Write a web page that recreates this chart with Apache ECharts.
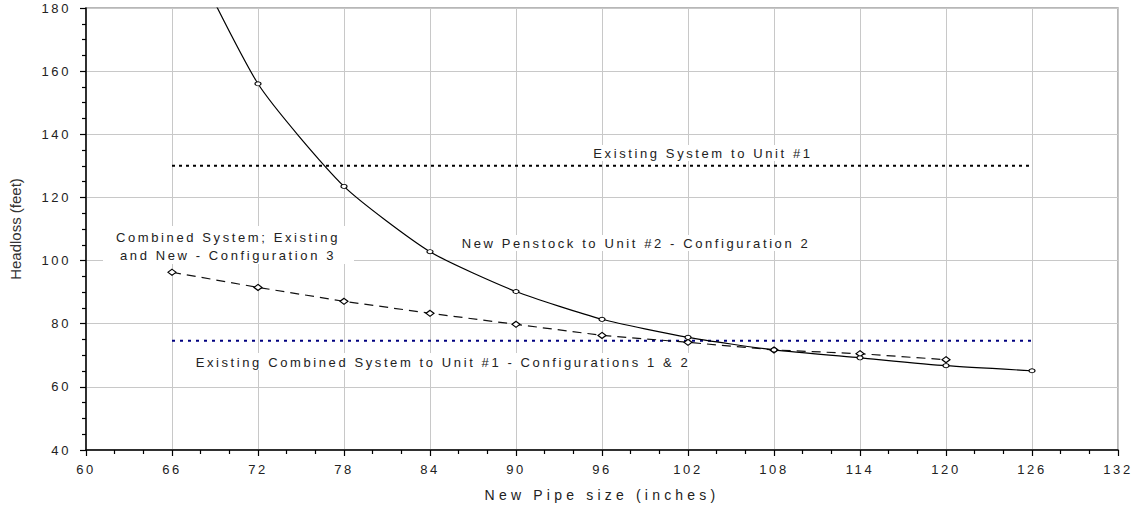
<!DOCTYPE html>
<html>
<head>
<meta charset="utf-8">
<script src="https://cdn.jsdelivr.net/npm/echarts@6/dist/echarts.min.js"></script>
<style>
  html, body { margin: 0; padding: 0; background: #fff; }
  #chart { width: 1134px; height: 507px; }
  /* the original has widely spaced lettering */
  #chart text { letter-spacing: 2.6px; }
  #chart text[style*="14px"] { letter-spacing: 4.2px; }
  #chart text[style*="Arial"] { letter-spacing: 0; }
</style>
</head>
<body>
<div id="chart"></div>
<script>
// pipe sizes (inches)
const pipeSizes = [66, 72, 78, 84, 90, 96, 102, 108, 114, 120, 126];
// New Penstock to Unit #2 - Configuration 2 (66" point is off the top)
const newPenstock = [209, 156, 123.5, 102.8, 90.2, 81.4, 75.7, 71.7, 69.2, 66.7, 65.1];
// Combined System; Existing and New - Configuration 3 (66..120)
const combinedSizes = [66, 72, 78, 84, 90, 96, 102, 108, 114, 120];
const combinedConfig3 = [96.3, 91.5, 87.1, 83.3, 79.8, 76.3, 74.1, 71.7, 70.5, 68.6];
// constant reference lines
const refSizes = [66, 126];
const existingUnit1 = 130;
const existingCombined = 74.6;

const xTicks = { min: 60, max: 132, interval: 6 };
const yTicks = { min: 40, max: 180, interval: 20 };

const chart = echarts.init(document.getElementById('chart'), null, { renderer: 'svg' });

const font = 'Liberation Sans';
const txt = '#222';

function pairs(xs, ys) {
  return xs.map((x, i) => [x, ys[i]]);
}

const option = {
  animation: false,
  grid: {
    left: 85, right: 16, top: 8, bottom: 55,
    show: true, borderColor: '#a0a0a0', borderWidth: 1.5
  },
  xAxis: {
    type: 'value',
    min: xTicks.min, max: xTicks.max, interval: xTicks.interval,
    name: 'New Pipe size (inches)',
    nameLocation: 'middle',
    nameGap: 38,
    nameTextStyle: { fontFamily: font, fontSize: 14, color: txt },
    axisLine: { lineStyle: { color: '#000', width: 1.5 } },
    axisTick: { length: 6, lineStyle: { color: '#000', width: 1.2 } },
    minorTick: { show: true, splitNumber: 3, length: 4, lineStyle: { color: '#000', width: 1.2 } },
    splitLine: { lineStyle: { color: '#c8c8c8', width: 1 } },
    axisLabel: { fontFamily: font, fontSize: 13, color: txt, margin: 13 }
  },
  yAxis: {
    type: 'value',
    min: yTicks.min, max: yTicks.max, interval: yTicks.interval,
    name: 'Headloss (feet)',
    nameLocation: 'middle',
    nameGap: 63,
    nameTextStyle: { fontFamily: 'Arial', fontSize: 15, color: '#333' },
    axisLine: { show: true, lineStyle: { color: '#000', width: 1.5 } },
    axisTick: { show: true, length: 6, lineStyle: { color: '#000', width: 1.2 } },
    minorTick: { show: true, splitNumber: 4, length: 4, lineStyle: { color: '#000', width: 1.2 } },
    splitLine: { lineStyle: { color: '#c8c8c8', width: 1 } },
    axisLabel: { fontFamily: font, fontSize: 13, color: txt, margin: 15 }
  },
  series: [
    {
      name: 'Existing System to Unit #1',
      type: 'line',
      data: refSizes.map(x => [x, existingUnit1]),
      symbol: 'none',
      lineStyle: { color: '#000', width: 2, type: [3, 4] },
      z: 3
    },
    {
      name: 'Existing Combined System to Unit #1 - Configurations 1 & 2',
      type: 'line',
      data: refSizes.map(x => [x, existingCombined]),
      symbol: 'none',
      lineStyle: { color: '#000080', width: 2.2, type: [3, 5] },
      z: 3
    },
    {
      name: 'Combined System; Existing and New - Configuration 3',
      type: 'line',
      data: pairs(combinedSizes, combinedConfig3),
      symbol: 'diamond',
      symbolSize: [8, 6],
      itemStyle: { color: '#fff', borderColor: '#000', borderWidth: 1.2 },
      lineStyle: { color: '#111', width: 1.2, type: [9, 6] },
      z: 4
    },
    {
      name: 'New Penstock to Unit #2 - Configuration 2',
      type: 'line',
      data: pairs(pipeSizes, newPenstock),
      smooth: 0.2,
      clip: true,
      symbol: 'circle',
      symbolSize: [6, 4],
      itemStyle: { color: '#fff', borderColor: '#000', borderWidth: 1 },
      lineStyle: { color: '#000', width: 1.2 },
      z: 5
    }
  ],
  graphic: [
    { type: 'rect', shape: { x: 586, y: 145, width: 234, height: 16 }, style: { fill: '#fff' }, z: 10 },
    { type: 'text', z: 11, style: { text: 'Existing System to Unit #1', x: 703, y: 153, textAlign: 'center', textVerticalAlign: 'middle', fontFamily: font, fontSize: 13, fill: txt } },
    { type: 'rect', shape: { x: 451, y: 235, width: 366, height: 16 }, style: { fill: '#fff' }, z: 10 },
    { type: 'text', z: 11, style: { text: 'New Penstock to Unit #2 - Configuration 2', x: 636, y: 243, textAlign: 'center', textVerticalAlign: 'middle', fontFamily: font, fontSize: 13, fill: txt } },
    { type: 'rect', shape: { x: 103, y: 226, width: 251, height: 38 }, style: { fill: '#fff' }, z: 10 },
    { type: 'text', z: 11, style: { text: 'Combined System; Existing\nand New - Configuration 3', x: 228, y: 246, textAlign: 'center', textVerticalAlign: 'middle', lineHeight: 18, fontFamily: font, fontSize: 13, fill: txt } },
    { type: 'rect', shape: { x: 182, y: 353, width: 520, height: 17 }, style: { fill: '#fff' }, z: 10 },
    { type: 'text', z: 11, style: { text: 'Existing Combined System to Unit #1 - Configurations 1 & 2', x: 443, y: 362, textAlign: 'center', textVerticalAlign: 'middle', fontFamily: font, fontSize: 13, fill: txt } }
  ]
};

chart.setOption(option);
window.addEventListener('resize', function () {
  chart.resize();
});
</script>
</body>
</html>
